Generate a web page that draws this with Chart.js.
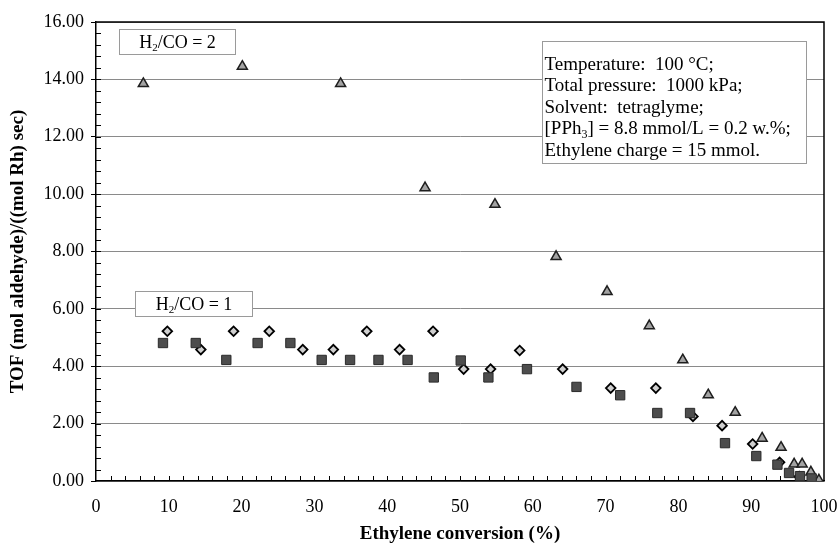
<!DOCTYPE html>
<html>
<head>
<meta charset="utf-8">
<script src="https://cdn.jsdelivr.net/npm/chart.js@4/dist/chart.umd.min.js"></script>
<style>
  html, body { margin: 0; padding: 0; background: #fff; overflow: hidden; }
  #wrap { width: 837px; height: 545px; position: relative; }
  canvas { display: block; }
</style>
</head>
<body>
<div id="wrap"><canvas id="tof"></canvas></div>
<script>
// H2/CO = 2 (triangles)
const ratio2X = [6.5, 20.1, 33.6, 45.2, 54.8, 63.2, 70.2, 76.0, 80.6, 84.1, 87.8, 91.5, 94.1, 95.9, 97.0, 98.2, 99.3];
const ratio2Y = [13.85, 14.45, 13.85, 10.22, 9.64, 7.82, 6.60, 5.41, 4.22, 3.00, 2.39, 1.49, 1.17, 0.59, 0.59, 0.31, 0.03];

// H2/CO = 1, first run (squares)
const ratio1aX = [9.2, 13.7, 17.9, 22.2, 26.7, 31.0, 34.9, 38.8, 42.8, 46.4, 50.1, 53.9, 59.2, 66.0, 72.0, 77.1, 81.6, 86.4, 90.7, 93.6, 95.2, 96.7, 98.3];
const ratio1aY = [4.81, 4.81, 4.22, 4.81, 4.81, 4.22, 4.22, 4.22, 4.22, 3.61, 4.20, 3.61, 3.90, 3.28, 2.99, 2.37, 2.37, 1.32, 0.87, 0.57, 0.28, 0.17, 0.09];

// H2/CO = 1, second run (diamonds)
const ratio1bX = [9.8, 14.4, 18.9, 23.8, 28.4, 32.6, 37.2, 41.7, 46.3, 50.5, 54.2, 58.2, 64.1, 70.7, 76.9, 82.0, 86.0, 90.2, 93.9, 96.6];
const ratio1bY = [5.22, 4.58, 5.22, 5.22, 4.58, 4.58, 5.22, 4.58, 5.22, 3.90, 3.90, 4.55, 3.90, 3.24, 3.24, 2.25, 1.93, 1.29, 0.65, 0.15];

const xTitle = 'Ethylene conversion (%)';
const yTitle = 'TOF (mol aldehyde)/((mol Rh) sec)';
const conditions = [
  [['Temperature:  100 °C;']],
  [['Total pressure:  1000 kPa;']],
  [['Solvent:  tetraglyme;']],
  [['[PPh'], ['3', 'sub'], ['] = 8.8 mmol/L = 0.2 w.%;']],
  [['Ethylene charge = 15 mmol.']]
];
const label2 = [['H'], ['2', 'sub'], ['/CO = 2']];
const label1 = [['H'], ['2', 'sub'], ['/CO = 1']];

const SERIF = '"Liberation Serif", "Times New Roman", serif';

function toPoints(xs, ys) {
  return xs.map((x, i) => ({ x: x, y: ys[i] }));
}

// text with subscripts
function richWidth(ctx, parts, size) {
  let w = 0;
  parts.forEach(p => {
    ctx.font = (p[1] === 'sub' ? Math.round(size * 0.62) : size) + 'px ' + SERIF;
    w += ctx.measureText(p[0]).width;
  });
  return w;
}
function drawRich(ctx, parts, x, y, size) {
  parts.forEach(p => {
    const sub = p[1] === 'sub';
    ctx.font = (sub ? Math.round(size * 0.62) : size) + 'px ' + SERIF;
    ctx.fillText(p[0], x, sub ? y + size * 0.22 : y);
    x += ctx.measureText(p[0]).width;
  });
}

const notesPlugin = {
  id: 'notes',
  beforeDatasetsDraw(chart) {
    const ctx = chart.ctx;
    const xs = chart.scales.x, ys = chart.scales.y;
    const area = chart.chartArea;

    ctx.save();
    // minor ticks, drawn inward
    ctx.strokeStyle = '#000';
    ctx.lineWidth = 1;
    ctx.beginPath();
    for (let v = 0.4; v < 16; v += 0.4) {
      const py = Math.round(ys.getPixelForValue(v)) + 0.5;
      ctx.moveTo(area.left, py);
      ctx.lineTo(area.left + 5, py);
    }
    for (let v = 2; v < 100; v += 2) {
      const px = Math.round(xs.getPixelForValue(v)) + 0.5;
      ctx.moveTo(px, area.bottom);
      ctx.lineTo(px, area.bottom - 5);
    }
    ctx.stroke();

    // label boxes
    const box = (x0, y0, x1, y1) => {
      const l = Math.round(xs.getPixelForValue(x0)) + 0.5;
      const t = Math.round(ys.getPixelForValue(y0)) + 0.5;
      const r = Math.round(xs.getPixelForValue(x1)) + 0.5;
      const b = Math.round(ys.getPixelForValue(y1)) + 0.5;
      ctx.fillStyle = '#fff';
      ctx.fillRect(l, t, r - l, b - t);
      ctx.strokeStyle = '#9a9a9a';
      ctx.lineWidth = 1;
      ctx.strokeRect(l, t, r - l, b - t);
      return { l, t, r, b };
    };

    ctx.fillStyle = '#000';
    ctx.textBaseline = 'alphabetic';
    ctx.textAlign = 'left';

    let b = box(3.16, 15.75, 19.1, 14.88);
    let w = richWidth(ctx, label2, 18);
    ctx.fillStyle = '#000';
    drawRich(ctx, label2, (b.l + b.r - w) / 2, b.t + 18, 18);

    b = box(5.4, 6.61, 21.4, 5.75);
    w = richWidth(ctx, label1, 18);
    ctx.fillStyle = '#000';
    drawRich(ctx, label1, (b.l + b.r - w) / 2, b.t + 18, 18);

    b = box(61.3, 15.33, 97.5, 11.1);
    ctx.fillStyle = '#000';
    conditions.forEach((line, i) => {
      drawRich(ctx, line, b.l + 2, b.t + 28 + i * 21.5, 19);
    });
    ctx.restore();
  },
  afterDraw(chart) {
    const ctx = chart.ctx;
    const a = chart.chartArea;
    ctx.save();
    ctx.strokeStyle = '#000';
    ctx.lineWidth = 1.5;
    ctx.beginPath();
    ctx.moveTo(a.left, a.top);
    ctx.lineTo(a.right, a.top);
    ctx.lineTo(a.right, a.bottom);
    ctx.stroke();
    ctx.restore();
  }
};

new Chart(document.getElementById('tof'), {
  type: 'scatter',
  data: {
    datasets: [
      {
        label: 'H2/CO = 1 (a)',
        data: toPoints(ratio1aX, ratio1aY),
        pointStyle: 'rect',
        pointRadius: 6.6,
        backgroundColor: '#4d4d4d',
        borderColor: '#2a2a2a',
        borderWidth: 1,
        order: 0
      },
      {
        label: 'H2/CO = 1 (b)',
        data: toPoints(ratio1bX, ratio1bY),
        pointStyle: 'rectRot',
        pointRadius: 4.8,
        backgroundColor: '#cfcfcf',
        borderColor: '#000',
        borderWidth: 1.8,
        order: 1
      },
      {
        label: 'H2/CO = 2',
        data: toPoints(ratio2X, ratio2Y),
        pointStyle: 'triangle',
        pointRadius: 5.8,
        backgroundColor: '#a3a3a3',
        borderColor: '#1e1e1e',
        borderWidth: 1.5,
        order: 2
      }
    ]
  },
  options: {
    responsive: true,
    maintainAspectRatio: false,
    animation: false,
    layout: { padding: { top: 22, right: 13, left: 0, bottom: 0 } },
    plugins: {
      legend: { display: false },
      tooltip: { enabled: false }
    },
    scales: {
      x: {
        type: 'linear',
        min: 0,
        max: 100,
        afterFit(scale) {
          scale.height = 64;
          scale.paddingLeft = 0;
          scale.paddingRight = 0;
        },
        grid: { display: false, drawTicks: false },
        border: { display: true, color: '#000', width: 1.5 },
        ticks: {
          stepSize: 10,
          padding: 15,
          color: '#000',
          font: { family: SERIF, size: 18 }
        },
        title: {
          display: true,
          text: xTitle,
          color: '#000',
          padding: { top: 0, bottom: 0 },
          font: { family: SERIF, size: 19, weight: 'bold' }
        }
      },
      y: {
        type: 'linear',
        min: 0,
        max: 16,
        afterFit(scale) { scale.width = 96; },
        grid: {
          color: '#8a8a8a',
          lineWidth: 1,
          tickLength: 5,
          tickColor: '#000'
        },
        border: { display: true, color: '#000', width: 1.5 },
        ticks: {
          stepSize: 2,
          padding: 7,
          color: '#000',
          font: { family: SERIF, size: 18 },
          callback: v => v.toFixed(2)
        },
        title: {
          display: true,
          text: yTitle,
          color: '#000',
          padding: { top: 7, bottom: 0 },
          font: { family: SERIF, size: 19, weight: 'bold' }
        }
      }
    }
  },
  plugins: [notesPlugin]
});
</script>
</body>
</html>
